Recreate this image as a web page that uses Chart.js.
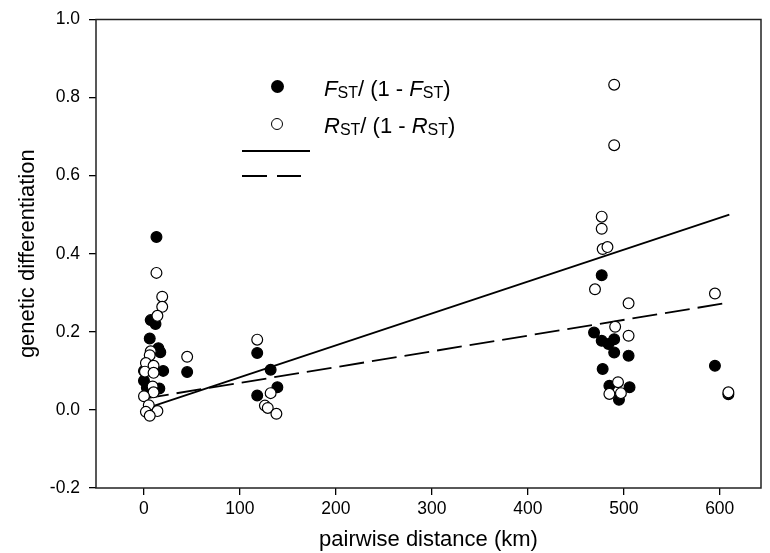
<!DOCTYPE html>
<html>
<head>
<meta charset="utf-8">
<script src="https://cdn.jsdelivr.net/npm/chart.js@4.4.1/dist/chart.umd.min.js"></script>
<style>
  html, body { margin: 0; padding: 0; background: #fff; }
  #wrap { position: relative; width: 770px; height: 553px; font-family: "Liberation Sans", Arial, sans-serif; color: #000; }
  canvas { display: block; }
  .lg { position: absolute; white-space: nowrap; font-size: 22px; line-height: 22px; }
  .lg i { font-style: italic; }
  .lg .s { font-size: 16px; position: relative; top: 2px; }
  .mk { position: absolute; box-sizing: border-box; border-radius: 50%; }
</style>
</head>
<body>
<div id="wrap">
  <canvas id="c" width="770" height="553"></canvas>
  <div class="mk" style="left:270.5px;top:79.5px;width:13px;height:13px;background:#000;"></div>
  <div class="lg" style="left:324px;top:78px;"><i>F</i><span class="s">ST</span>/ (1 - <i>F</i><span class="s">ST</span>)</div>
  <div class="mk" style="left:271px;top:117.5px;width:12px;height:12px;border:1.5px solid #000;background:#fff;"></div>
  <div class="lg" style="left:324px;top:115px;"><i>R</i><span class="s">ST</span>/ (1 - <i>R</i><span class="s">ST</span>)</div>
  <div style="position:absolute;left:242px;top:150px;width:68px;height:0;border-top:2px solid #000;"></div>
  <div style="position:absolute;left:242px;top:175px;width:25px;height:0;border-top:2px solid #000;"></div>
  <div style="position:absolute;left:277px;top:175px;width:24px;height:0;border-top:2px solid #000;"></div>
</div>
<script>
// ---- data ----
const xTickValues = [0, 100, 200, 300, 400, 500, 600];
const yTickValues = [-0.2, 0.0, 0.2, 0.4, 0.6, 0.8, 1.0];

// F_ST / (1 - F_ST)  (filled circles)
const fstDistance = [13, 7, 12, 6, 15, 17, 20, 0, 0, 3, 10, 16, 45,
                     118, 132, 139, 118,
                     477, 469, 477, 484, 490, 490, 505, 478, 485, 506, 495,
                     595, 609];
const fstValue    = [0.443, 0.23, 0.22, 0.183, 0.158, 0.148, 0.10, 0.10, 0.075, 0.057, 0.05, 0.055, 0.097,
                     0.146, 0.103, 0.058, 0.037,
                     0.345, 0.198, 0.177, 0.169, 0.181, 0.147, 0.139, 0.105, 0.062, 0.058, 0.026,
                     0.113, 0.040];

// R_ST / (1 - R_ST)  (open circles)
const rstDistance = [13, 19, 19, 14, 7, 6, 2, 10, 1, 10, 9, 10, 0, 5, 2, 14, 6, 45,
                     118, 132, 126, 129, 138,
                     490, 490, 477, 477, 478, 483, 470, 505, 491, 505, 494, 485, 497,
                     595, 609];
const rstValue    = [0.351, 0.29, 0.264, 0.241, 0.15, 0.14, 0.12, 0.113, 0.098, 0.095, 0.06, 0.045, 0.035, 0.012, -0.005, -0.003, -0.015, 0.136,
                     0.18, 0.043, 0.011, 0.005, -0.01,
                     0.833, 0.678, 0.495, 0.464, 0.412, 0.417, 0.309, 0.273, 0.213, 0.19, 0.071, 0.041, 0.043,
                     0.298, 0.045];

// regression lines
const solidFitDistance  = [0, 610];
const solidFitValue     = [0.002, 0.500];
const dashedFitDistance = [0, 610];
const dashedFitValue    = [0.029, 0.275];

const xMin = -50, xMax = 643, yMin = -0.2, yMax = 1.0;

const toPts = (xs, ys) => xs.map((x, i) => ({ x: x, y: ys[i] }));

const frame = {
  id: 'frame',
  afterDraw(chart) {
    const { ctx, chartArea: a } = chart;
    ctx.save();
    ctx.strokeStyle = '#222';
    ctx.lineWidth = 1.5;
    ctx.strokeRect(a.left, a.top, a.right - a.left, a.bottom - a.top);
    ctx.restore();
  }
};

const FONT = "'Liberation Sans', Arial, sans-serif";

new Chart(document.getElementById('c'), {
  type: 'scatter',
  data: {
    datasets: [
      { data: toPts(fstDistance, fstValue), backgroundColor: '#000', borderColor: '#000', borderWidth: 1.2,
        pointRadius: 5.4, order: 1 },
      { data: toPts(rstDistance, rstValue), backgroundColor: '#fff', borderColor: '#000', borderWidth: 1.2,
        pointRadius: 5.4, order: 0 },
      { type: 'line', data: toPts(solidFitDistance, solidFitValue), borderColor: '#000', borderWidth: 1.8,
        pointRadius: 0, fill: false, order: 2 },
      { type: 'line', data: toPts(dashedFitDistance, dashedFitValue), borderColor: '#000', borderWidth: 1.8,
        borderDash: [25, 8], pointRadius: 0, fill: false, order: 2 }
    ]
  },
  options: {
    responsive: false,
    devicePixelRatio: 1,
    animation: false,
    events: [],
    layout: { padding: { left: 0, right: 9, top: 17, bottom: 0 } },
    plugins: { legend: { display: false }, tooltip: { enabled: false } },
    scales: {
      x: {
        type: 'linear', min: xMin, max: xMax,
        afterFit: s => { s.height = 65; },
        afterBuildTicks: s => { s.ticks = xTickValues.map(v => ({ value: v })); },
        grid: { display: true, drawOnChartArea: false, drawTicks: true, tickLength: 7, color: '#000', lineWidth: 1.3 },
        border: { display: false },
        ticks: { color: '#000', padding: 4, font: { family: FONT, size: 17.5 }, maxRotation: 0, autoSkip: false,
                 callback: v => String(v) },
        title: { display: true, text: 'pairwise distance (km)', color: '#000', font: { family: FONT, size: 22 },
                 padding: { top: 0, bottom: 0 } }
      },
      y: {
        type: 'linear', min: yMin, max: yMax,
        afterFit: s => { s.width = 96; },
        afterBuildTicks: s => { s.ticks = yTickValues.map(v => ({ value: v })); },
        grid: { display: true, drawOnChartArea: false, drawTicks: true, tickLength: 7, color: '#000', lineWidth: 1.3 },
        border: { display: false },
        ticks: { color: '#000', padding: 9, font: { family: FONT, size: 17.5 }, autoSkip: false,
                 callback: v => Number(v).toFixed(1) },
        title: { display: true, text: 'genetic differentiation', color: '#000', font: { family: FONT, size: 22 },
                 padding: { top: 15, bottom: 0 } }
      }
    }
  },
  plugins: [frame]
});
</script>
</body>
</html>
